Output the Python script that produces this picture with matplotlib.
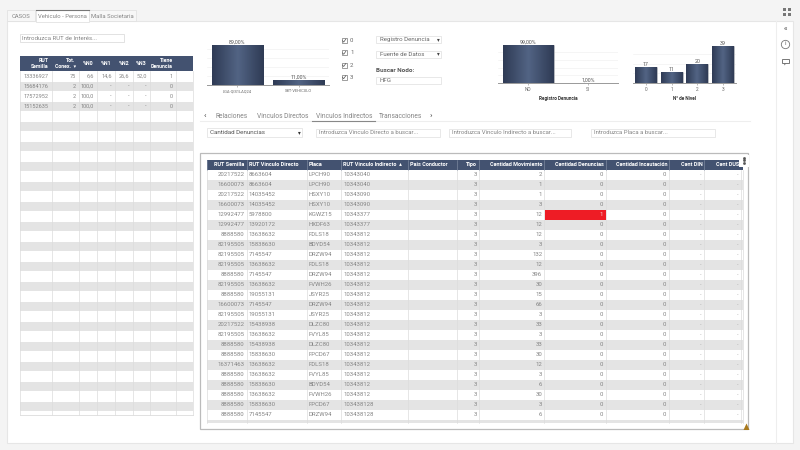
import numpy as np
import matplotlib
matplotlib.use("Agg")
import matplotlib.pyplot as plt
from matplotlib.patches import Rectangle, Polygon
from matplotlib.colors import LinearSegmentedColormap

plt.rcParams["font.family"] = ["Roboto", "DejaVu Sans"]

# datos de la tabla izquierda
left_headers = ["RUT\nSemilla", "Tot.\nConex.  ▾", "%N0", "%N1", "%N2", "%N3", "Tiene\nDenuncia", ""]
left_rut = ["13336927", "15684176", "17572952", "15152635"]
left_conex = ["75", "2", "2", "2"]
left_n0 = ["6,6", "100,0", "100,0", "100,0"]
left_n1 = ["14,6", "-", "-", "-"]
left_n2 = ["26,6", "-", "-", "-"]
left_n3 = ["52,0", "-", "-", "-"]
left_den = ["1", "0", "0", "0"]

# datos de la tabla principal
main_headers = ["RUT Semilla", "RUT Vinculo Directo", "Placa", "RUT Vinculo Indirecto  ▴", "Pais Conductor",
                "Tipo", "Cantidad Movimiento", "Cantidad Denuncias", "Cantidad Incautación", "Cant DIN", "Cant DUS"]
rut_semilla = ["20217522", "16600073", "20217522", "16600073", "12992477", "12992477", "8888580", "82195505",
               "82195505", "82195505", "8888580", "82195505", "8888580", "16600073", "82195505", "20217522",
               "82195505", "8888580", "8888580", "16371463", "8888580", "8888580", "8888580", "8888580", "8888580"]
rut_directo = ["8663604", "8663604", "14035452", "14035452", "5978800", "13920172", "13638632", "15838630",
               "7145547", "13638632", "7145547", "13638632", "19055131", "7145547", "19055131", "15438938",
               "13638632", "15438938", "15838630", "13638632", "13638632", "15838630", "13638632", "15838630",
               "7145547"]
placa = ["LPCH90", "LPCH90", "HSXY10", "HSXY10", "KGWZ15", "HXDF63", "FDLS18", "BDYD54", "DRZW94", "FDLS18",
         "DRZW94", "FVWH26", "JSYR25", "DRZW94", "JSYR25", "DLZC80", "FVYL85", "DLZC80", "FPCD67", "FDLS18",
         "FVYL85", "BDYD54", "FVWH26", "FPCD67", "DRZW94"]
rut_indirecto = ["10343040", "10343040", "10343090", "10343090", "10343377", "10343377"] + ["10343812"] * 17 \
    + ["103438128", "103438128"]
tipo = ["3"] * 25
movimiento = [2, 1, 1, 3, 12, 12, 12, 3, 132, 12, 396, 30, 15, 66, 3, 33, 3, 33, 30, 12, 3, 6, 30, 3, 6]
denuncias = [0, 0, 0, 0, 1, 0, 0, 0, 0, 0, 0, 0, 0, 0, 0, 0, 0, 0, 0, 0, 0, 0, 0, 0, 0]
incautacion = [0] * 25

# datos de los graficos
c1_labels = ["LGA-QIS1LAQ24", "SBT-VEHICULO"]
c1_values = [89, 11]
c1_text = ["89,00%", "11,00%"]
c2_labels = ["NO", "SI"]
c2_values = [99, 1]
c2_text = ["99,00%", "1,00%"]
c3_labels = ["0", "1", "2", "3"]
c3_values = [17, 11, 20, 39]

HEAD = "#435270"
ROW = "#e4e4e4"
TXT = "#858585"
LINE = "#dcdcdc"

fig = plt.figure(figsize=(8, 4.5), dpi=100, facecolor="#f4f4f4")
ax = fig.add_axes([0, 0, 1, 1])
ax.set_xlim(0, 800)
ax.set_ylim(450, 0)
ax.axis("off")


def box(x0, y0, x1, y1, fc="white", ec="none", lw=0.6, z=1):
    ax.add_patch(Rectangle((x0, y0), x1 - x0, y1 - y0, fc=fc, ec=ec, lw=lw, zorder=z))


def txt(x, y, s, size=4.3, color=TXT, ha="left", weight="normal", z=5):
    ax.text(x, y, s, fontsize=size, color=color, ha=ha, va="center", weight=weight, zorder=z)


# paneles de fondo
box(6.5, 21, 793, 443, ec="#e6e6e6", lw=0.8)
ax.plot([776, 776], [21, 443], color="#eeeeee", lw=0.8, zorder=2)

# pestañas
box(7, 10, 35, 21, fc="#f7f7f7", ec="#e2e2e2")
box(36, 10, 89, 22, fc="white", ec="#e2e2e2", z=2)
ax.plot([36, 89], [10, 10], color="#777777", lw=0.8, zorder=3)
box(89, 10, 136, 21, fc="#f7f7f7", ec="#e2e2e2")
txt(21, 16, "CASOS", 4.2, ha="center")
txt(62.5, 16, "Vehiculo - Persona", 4.2, ha="center")
txt(112.5, 16, "Malla Societaria", 4.2, ha="center")

# iconos de la derecha
for dx in (-2.5, 2.5):
    for dy in (-2.5, 2.5):
        box(787 + dx - 1.6, 12 + dy - 1.6, 787 + dx + 1.6, 12 + dy + 1.6, fc="#777777", z=3)
txt(785, 27.5, "«", 5, color="#666666", ha="center", weight="bold")
ax.plot([785], [43.5], "o", ms=6, mfc="white", mec="#777777", mew=0.6, zorder=3)
txt(785, 43.5, "i", 4.5, color="#666666", ha="center")
box(781.5, 58.5, 788.5, 63, fc="white", ec="#777777", lw=0.7, z=3)
ax.add_patch(Polygon([[783.5, 63], [786, 63], [784.8, 65.5]], fc="#777777", ec="none", zorder=3))

# filtros
box(20, 34, 124, 42, ec="#dddddd")
txt(22.5, 38, "Introduzca RUT de Interés...", 4.4)
for i, lab in enumerate(c3_labels):
    y = 40.7 + 12.2 * i
    box(341.5, y - 2.5, 346.5, y + 2.5, ec="#777777", lw=0.5)
    ax.plot([342.5, 343.7, 345.8], [y, y + 1.4, y - 1.6], color="#555555", lw=0.5, zorder=3)
    txt(350, y, lab, 4.3, color="#666666")
for y, lab in zip((39.5, 54), ("Registro Denuncia", "Fuente de Datos")):
    box(376, y - 3.5, 441, y + 3.5, ec="#e4e4e4")
    txt(380, y, lab, 4.4, color="#666666")
    txt(438.5, y, "▾", 4, color="#444444", ha="center")
txt(376, 70, "Buscar Nodo:", 4.5, color="#555555", weight="bold")
box(376, 76.5, 441, 83.5, ec="#e4e4e4")
txt(380, 80, "HFG", 4.4, color="#666666")

# pestañas de vinculos
ax.plot([200, 750], [121, 121], color="#eeeeee", lw=0.8, zorder=2)
ax.plot([312, 375], [121, 121], color="#888888", lw=0.8, zorder=3)
txt(205, 116, "‹", 6, color="#444444", ha="center")
txt(431, 116, "›", 6, color="#444444", ha="center")
for xc, lab in zip((232, 283, 344, 401), ("Relaciones", "Vinculos Directos", "Vinculos Indirectos", "Transacciones")):
    txt(xc, 116, lab, 4.8, ha="center")

box(207, 128, 302, 137, ec="#e4e4e4")
txt(210, 133, "Cantidad Denuncias", 4.5, color="#555555")
txt(299, 133, "▾", 4, color="#333333", ha="center")
for x0, x1, lab in ((316, 440, "Introduzca Vinculo Directo a buscar..."),
                    (449, 571, "Introduzca Vinculo Indirecto a buscar..."),
                    (591, 715, "Introduzca Placa a buscar...")):
    box(x0, 129, x1, 137, ec="#e4e4e4")
    txt(x0 + 3, 133, lab, 4.3)

# tabla izquierda
lx = [20, 51.7, 78.7, 96.7, 114.7, 132.7, 149.5, 175.5, 192.5]
box(lx[0], 56, lx[-1], 71, fc=HEAD, z=3)
for i, h in enumerate(left_headers):
    if i < 2 or i == 6:
        ax.text(lx[i + 1] - 3, 63.5, h, fontsize=3.8, color="white", ha="right", va="center",
                weight="bold", zorder=5, linespacing=1.3)
    else:
        txt((lx[i] + lx[i + 1]) / 2, 63.5, h, 3.8, "white", "center", "bold")
for k in range(35):
    y0 = 71 + 10 * k
    y1 = min(y0 + 10, 415)
    if k % 2 == 1:
        box(lx[0], y0 + 0.5, lx[-1], y1 - 0.5, fc=ROW, z=2)
for x in lx:
    ax.plot([x, x], [71, 415], color=LINE, lw=0.5, zorder=3)
ax.plot([lx[0], lx[-1]], [415, 415], color=LINE, lw=0.6, zorder=3)
for k in range(len(left_rut)):
    y = 76 + 10 * k
    cols = [left_rut[k], left_conex[k], left_n0[k], left_n1[k], left_n2[k], left_n3[k], left_den[k]]
    for i, v in enumerate(cols):
        txt(lx[i + 1] - 3, y, v, 4.0, ha="right")

# tabla principal
box(200, 153, 748, 429, ec="#bbbbbb", lw=0.9)
mx = [206.7, 246.7, 306.7, 341.3, 408, 456.7, 479.3, 544.3, 606.3, 669.3, 704.3, 741]
box(mx[0], 159.5, 742.5, 169.5, fc=HEAD, z=3)
for i, h in enumerate(main_headers):
    ax.plot([mx[i], mx[i]], [159.5, 169.5], color="#8a96aa", lw=0.4, zorder=4)
    if i == 0 or i >= 5:
        txt(mx[i + 1] - 2, 164.5, h, 4.0, "white", "right", "bold")
    else:
        txt(mx[i] + 2, 164.5, h, 4.0, "white", "left", "bold")
for k in range(26):
    y0 = 170 + 10 * k
    y1 = min(y0 + 10, 423)
    if k % 2 == 1:
        box(mx[0], y0, 742.5, y1, fc=ROW, z=2)
for x in mx + [742.5]:
    ax.plot([x, x], [170, 423], color=LINE, lw=0.5, zorder=3)
for k in range(len(rut_semilla)):
    y = 175 + 10 * k
    txt(mx[1] - 2, y, rut_semilla[k], 4.3, ha="right")
    txt(mx[1] + 2, y, rut_directo[k], 4.3)
    txt(mx[2] + 2, y, placa[k], 4.3)
    txt(mx[3] + 2, y, rut_indirecto[k], 4.3)
    txt(mx[6] - 2, y, tipo[k], 4.3, ha="right")
    txt(mx[7] - 2, y, str(movimiento[k]), 4.3, ha="right")
    if denuncias[k] > 0:
        box(mx[7] + 0.5, y - 4.8, mx[8] - 0.5, y + 4.8, fc="#ee1c25", z=4)
        txt(mx[8] - 3, y, str(denuncias[k]), 4.3, color="#f3d0d0", ha="right")
    else:
        txt(mx[8] - 3, y, str(denuncias[k]), 4.3, ha="right")
    txt(mx[9] - 3, y, str(incautacion[k]), 4.3, ha="right")
    txt(mx[10] - 3, y, "-", 4.0, ha="right", color="#aaaaaa")
    txt(mx[11] - 3, y, "-", 4.0, ha="right", color="#aaaaaa")

# menu y aviso
box(739, 155, 749, 167, fc="white", z=6)
ax.plot([744, 744, 744], [157.5, 160, 162.5], "s", ms=0.9, color="#555555", zorder=7, linestyle="none")
ax.add_patch(Polygon([[743.5, 430], [746.5, 423.5], [749.5, 430]], fc="#a9791c", ec="none", zorder=7))

# graficos de barras
cmap = LinearSegmentedColormap.from_list("barra", ["#2f3b55", "#526484", "#2f3b55"])
grad = np.linspace(0, 1, 64).reshape(1, -1)


def bar_chart(x0, x1, y_top, y_base, labels, values, texts, ymax, step, xlabel=None, tick_size=3.4):
    a = fig.add_axes([x0 / 800, 1 - y_base / 450, (x1 - x0) / 800, (y_base - y_top) / 450])
    a.patch.set_alpha(0)
    pos = np.arange(len(values))
    bars = a.bar(pos, values, width=0.85, color="#3c4a67", edgecolor="#c9c9c9", linewidth=0.4, zorder=3)
    a.set_yticks(np.arange(step, ymax + 0.1, step))
    a.tick_params(axis="y", length=0, labelleft=False)
    a.grid(axis="y", color="#f2f2f2", lw=0.5, zorder=0)
    for s in ("top", "left", "right"):
        a.spines[s].set_visible(False)
    a.spines["bottom"].set_color("#999999")
    a.spines["bottom"].set_linewidth(0.7)
    a.set_xticks(pos)
    a.set_xticklabels(labels, fontsize=tick_size, color="#666666")
    a.tick_params(axis="x", length=1.5, width=0.4, color="#888888", pad=1.5)
    for b, t in zip(bars, texts):
        im = a.imshow(grad, cmap=cmap, aspect="auto", zorder=4,
                      extent=(b.get_x(), b.get_x() + b.get_width(), 0, b.get_height()))
        im.set_clip_path(b)
        a.text(b.get_x() + b.get_width() / 2, b.get_height(), t, fontsize=3.8, color="#555555",
               ha="center", va="bottom", zorder=5)
    a.set_xlim(-0.5, len(values) - 0.5)
    a.set_ylim(0, ymax)
    if xlabel:
        a.set_xlabel(xlabel, fontsize=3.4, color="#333333", weight="bold", labelpad=3)
    return a


bar_chart(207, 329, 45, 85, c1_labels, c1_values, c1_text, 89, 20, tick_size=2.9)
bar_chart(498, 618, 45, 83, c2_labels, c2_values, c2_text, 99, 20, "Registro Denuncia")
bar_chart(633, 736, 45.7, 83, c3_labels, c3_values, [str(v) for v in c3_values], 39, 10, "N° de Nivel")

fig.savefig("out.png", dpi=100, facecolor=fig.get_facecolor())
